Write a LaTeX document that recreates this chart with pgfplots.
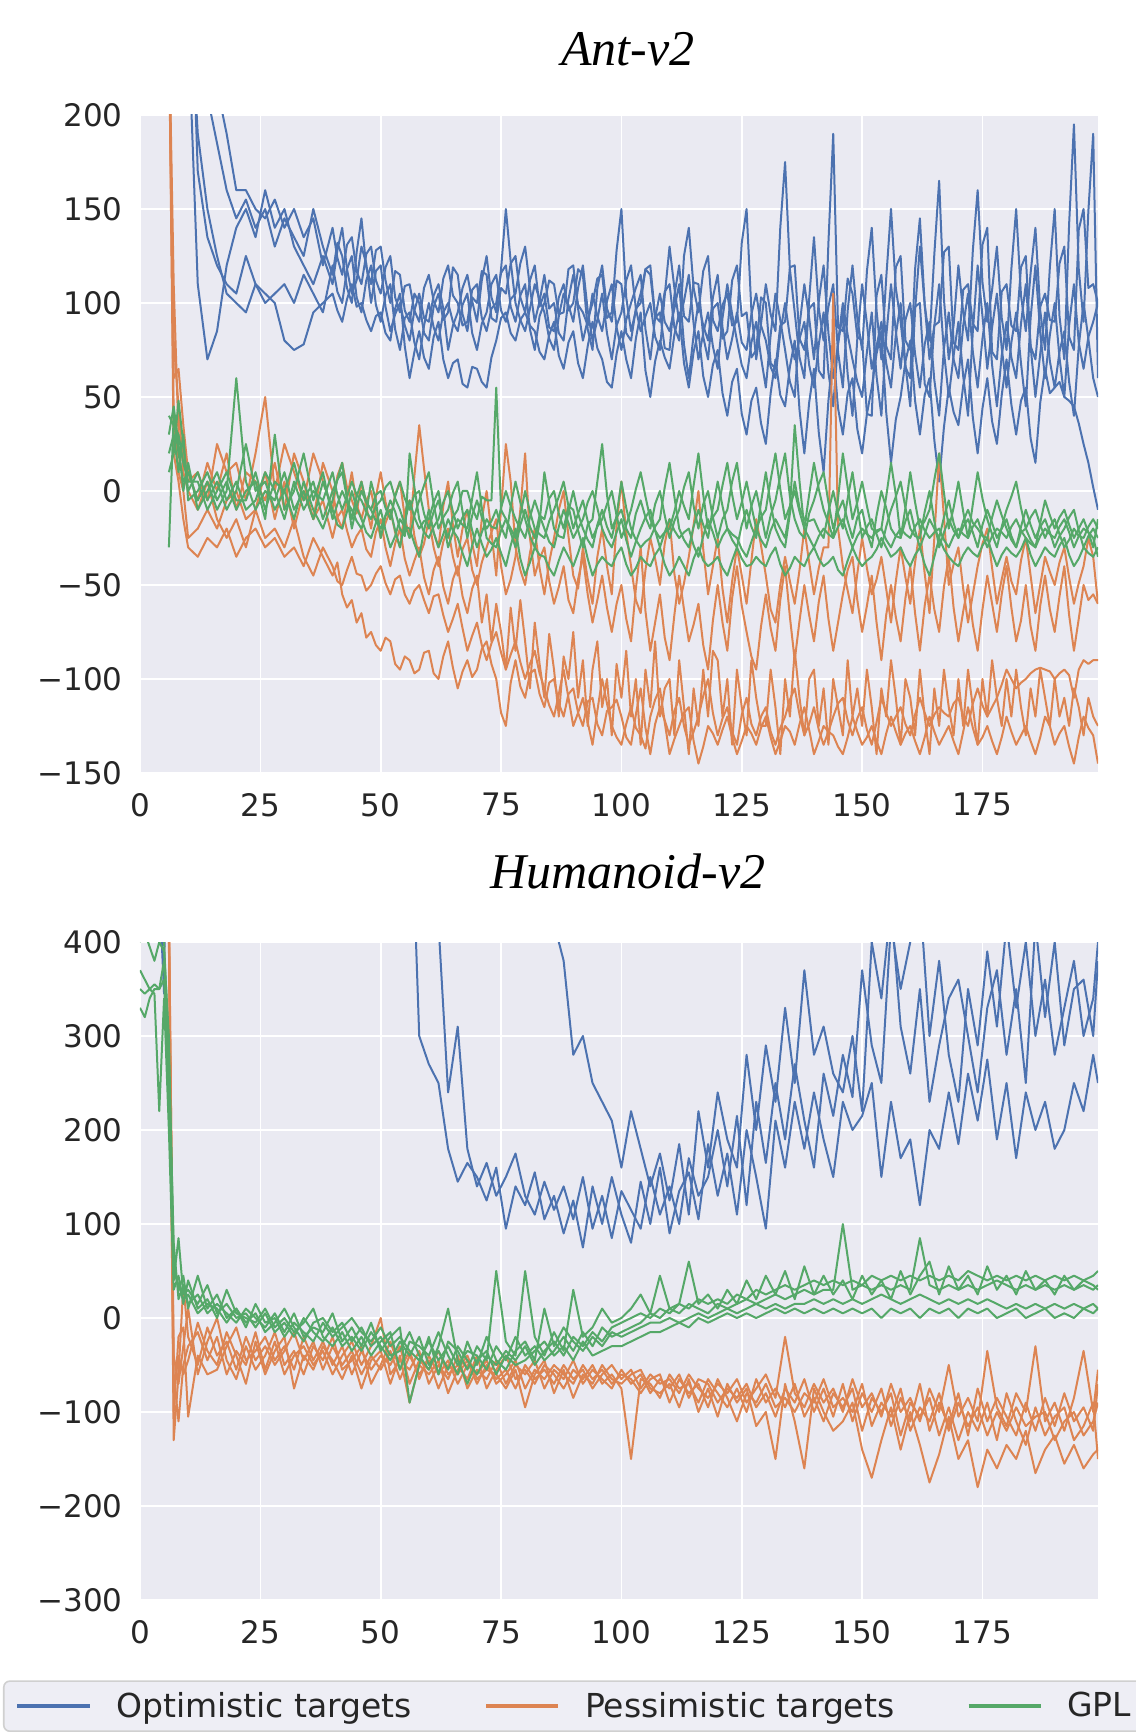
\documentclass[border=0pt]{standalone}
\usepackage{pgfplots}
\pgfplotsset{compat=1.18}
\usepackage{pgfplotstable}
\usepackage{fontspec}
\setmainfont{DejaVu Sans}
\newfontfamily\titlefont{Liberation Serif}
\definecolor{sbblue}{HTML}{4C72B0}
\definecolor{sborange}{HTML}{DD8452}
\definecolor{sbgreen}{HTML}{55A868}
\definecolor{sbbg}{HTML}{EAEAF2}
\definecolor{textgrey}{HTML}{262626}
\definecolor{legendfill}{HTML}{EEEEF5}
\definecolor{legendframe}{HTML}{D0D0D0}

\pgfplotstableread{
x a b c d e
6 400 400 400 400 400
7 400 400 400 400 400
8 350 380 420 360 400
9 300 350 400 320 360
10 250 320 380 280 330
12 110 170 330 190 260
14 70 135 260 150 210
16 85 120 215 125 185
18 120 110 190 105 160
20 140 105 160 100 145
22 150 125 160 95 155
24 135 110 150 110 140
26 160 100 145 105 150
28 140 105 155 100 130
30 150 110 140 80 145
32 130 100 150 75 135
34 120 115 135 78 125
36 110 105 145 95 150
38 125 95 120 100 130
40 110 120 140 105 115
41 128 106 124 96 132
42 140 100 115 90 125
43 118 118 131 102 108
44 105 125 135 110 100
45 112 103 117 98 127
46 130 95 110 100 145
47 121 112 126 91 119
48 100 120 130 85 110
49 117 99 112 93 128
50 120 90 105 95 130
51 98 104 119 84 112
52 85 110 125 80 100
53 94 86 103 97 117
54 100 75 95 105 115
55 88 92 109 77 96
56 80 95 110 60 90
57 96 79 96 74 105
58 105 70 90 85 100
59 92 88 108 71 84
60 90 100 115 65 80
61 104 87 101 82 98
62 110 80 95 90 105
63 97 95 113 70 91
64 75 100 120 60 95
65 88 90 104 68 119
66 95 85 100 70 115
67 108 99 88 57 94
68 115 105 90 55 85
69 101 84 107 66 103
70 90 75 110 65 100
71 112 89 92 58 117
72 125 95 85 55 115
73 103 110 97 71 92
74 95 115 100 80 90
75 118 96 116 92 108
76 150 90 120 95 105
77 122 102 98 84 121
78 100 105 90 80 125
79 91 121 104 91 103
80 85 130 110 95 95
81 97 108 86 88 112
82 110 90 75 85 120
83 102 101 93 74 98
84 95 115 100 70 105
85 81 97 112 83 87
86 75 100 110 90 85
87 93 84 94 72 103
88 105 80 95 65 110
89 99 102 118 79 96
90 90 115 120 85 100
91 108 99 97 68 118
92 120 95 80 60 115
93 96 88 91 77 86
94 80 105 100 90 75
95 91 93 113 76 108
96 105 85 115 70 120
97 84 101 92 58 97
98 70 110 95 55 90
99 88 87 128 73 112
100 95 75 150 85 110
101 112 91 103 70 84
102 120 100 85 60 80
103 97 108 96 81 97
104 85 115 105 95 100
105 93 86 118 64 118
106 100 70 120 50 115
107 82 92 93 69 92
108 75 105 90 80 95
109 104 90 106 71 76
110 130 85 110 65 75
111 108 97 87 83 104
112 90 110 80 95 120
113 101 78 125 68 93
114 115 60 140 55 90
115 89 83 108 74 111
116 70 100 95 85 110
117 84 88 117 61 82
118 95 80 125 50 70
119 77 103 91 67 97
120 65 115 85 75 100
121 92 87 99 52 81
122 110 70 105 40 85
123 94 81 88 58 112
124 80 95 90 65 120
125 67 79 132 41 93
126 60 75 150 30 95
127 79 94 96 48 71
128 90 105 70 55 75
129 71 88 89 36 103
130 55 80 110 25 100
131 83 66 94 52 68
132 105 60 85 70 65
133 91 84 140 51 88
134 75 100 175 45 90
135 58 82 118 66 119
136 50 70 95 80 120
137 88 81 71 43 81
138 110 90 60 20 75
139 92 67 102 47 97
140 70 55 135 65 100
141 101 78 97 31 64
142 120 95 80 10 60
143 84 63 98 48 132
144 60 45 110 75 190
145 78 79 74 44 87
146 95 100 55 30 85
147 62 83 96 52 113
148 40 70 120 60 105
149 81 58 92 33 82
150 110 50 75 20 80
151 89 74 117 41 41
152 65 95 140 55 40
153 77 61 96 73 104
154 90 40 70 85 115
155 68 82 113 42 77
156 55 110 150 15 70
157 83 85 108 38 119
158 100 65 90 50 125
159 67 91 66 69 80
160 45 100 60 80 75
161 96 73 118 48 98
162 130 55 145 30 100
163 99 78 99 51 57
164 70 90 80 60 50
165 88 59 126 27 88
166 110 40 165 5 90
167 74 76 102 34 127
168 50 95 70 55 130
169 72 70 88 42 79
170 90 60 120 35 75
171 61 88 95 56 107
172 40 105 80 70 110
173 85 74 128 39 89
174 120 55 160 20 85
175 93 81 111 44 131
176 65 100 90 60 140
177 87 67 107 37 74
178 105 45 130 25 70
179 76 72 92 51 106
180 55 90 75 70 110
181 79 71 118 46 88
182 95 60 150 30 85
183 68 89 104 48 119
184 45 110 85 55 125
185 92 77 116 28 77
186 120 50 140 15 70
187 84 73 96 47 98
188 60 95 75 65 105
189 83 69 119 52 91
190 100 55 150 55 90
191 71 74 93 58 121
192 50 85 70 50 130
193 88 58 142 48 82
194 110 40 195 45 75
195 79 77 118 36 139
196 65 100 90 25 150
197 82 81 149 15 108
198 90 60 190 2 110
199 100 50 60 -10 100
}\antblue

\pgfplotstableread{
x a b c d e
6 250 250 250 250 250
7 110 60 40 20 80
8 30 65 10 5 45
9 20 35 0 -15 10
10 5 10 -25 -30 0
12 10 -5 -20 -35 -10
14 -5 15 -10 -25 5
16 25 0 -20 -30 -15
18 10 20 -5 -20 -25
20 15 -10 0 -35 -15
22 -5 10 -15 -25 -30
24 20 5 -10 -20 -10
26 50 -5 10 -30 -25
28 0 15 -15 -25 -20
30 25 -10 5 -35 -30
32 10 20 -20 -30 -15
34 -5 5 0 -40 -35
36 20 -15 -15 -25 -45
38 5 15 -5 -35 -30
40 -10 0 -25 -45 -40
41 8 -14 -14 -38 -48
42 15 -20 -10 -55 -50
43 2 -4 -21 -62 -42
44 -5 10 -30 -58 -35
45 -12 -7 -24 -70 -44
46 5 -15 -20 -65 -45
47 -8 -5 -31 -78 -53
48 -20 0 -35 -75 -50
49 -3 -13 -22 -82 -44
50 10 -25 -15 -85 -40
51 -6 -17 -30 -78 -49
52 -15 -10 -40 -80 -55
53 -2 -22 -28 -92 -47
54 5 -30 -20 -95 -45
55 -14 -11 -36 -88 -55
56 -25 -5 -45 -90 -60
57 8 -24 -37 -97 -53
58 35 -35 -30 -95 -50
59 12 -28 -46 -86 -58
60 -10 -15 -55 -85 -65
61 -22 -30 -42 -97 -56
62 -30 -40 -35 -100 -55
63 -8 -27 -51 -88 -66
64 5 -20 -60 -80 -75
65 -18 -35 -47 -94 -68
66 -35 -45 -40 -105 -60
67 -20 -31 -56 -96 -73
68 -10 -25 -65 -90 -85
69 -28 -42 -52 -99 -77
70 -40 -50 -45 -95 -70
71 -15 -38 -70 -84 -82
72 0 -30 -55 -80 -90
73 -22 -22 -80 -92 -81
74 -45 -15 -60 -100 -75
75 -10 -40 -75 -118 -86
76 25 -55 -95 -125 -95
77 5 -47 -62 -102 -87
78 -30 -35 -85 -90 -80
79 -42 -10 -58 -104 -91
80 -50 20 -80 -110 -100
81 -33 -25 -105 -97 -92
82 -20 -45 -70 -95 -85
83 -41 -36 -92 -108 -97
84 -55 -30 -110 -115 -105
85 -38 -48 -76 -102 -114
86 -25 -60 -95 -100 -120
87 -10 -51 -120 -113 -108
88 0 -40 -88 -120 -95
89 -24 -58 -100 -108 -110
90 -45 -65 -75 -105 -125
91 -52 -47 -110 -118 -118
92 -30 -35 -90 -125 -110
93 -47 -55 -125 -112 -123
94 -60 -70 -95 -110 -135
95 -35 -58 -80 -124 -117
96 -20 -45 -115 -130 -100
97 -40 -62 -100 -117 -113
98 -55 -75 -130 -115 -125
99 -18 -60 -92 -111 -131
100 5 -50 -110 -120 -135
101 -22 -68 -85 -131 -124
102 -40 -80 -120 -135 -115
103 -58 -52 -100 -119 -126
104 -65 -30 -135 -105 -130
105 -42 -64 -95 -126 -137
106 -25 -85 -115 -140 -120
107 -36 -70 -80 -124 -111
108 -50 -55 -120 -115 -105
109 -28 -78 -105 -122 -123
110 -15 -90 -100 -130 -140
111 -44 -66 -130 -117 -132
112 -60 -45 -90 -110 -125
113 -49 -63 -115 -125 -118
114 -35 -80 -140 -135 -115
115 -18 -71 -105 -128 -133
116 0 -60 -125 -120 -145
117 -31 -82 -95 -109 -136
118 -55 -95 -120 -100 -125
119 -40 -69 -85 -118 -129
120 -25 -50 -90 -130 -135
121 -52 -70 -120 -121 -127
122 -70 -85 -100 -115 -120
123 -48 -57 -135 -128 -131
124 -30 -40 -95 -135 -140
125 -45 -61 -115 -119 -133
126 -60 -75 -130 -110 -125
127 -37 -88 -90 -124 -129
128 -15 -95 -110 -130 -135
129 -29 -72 -125 -120 -126
130 -45 -55 -125 -115 -120
131 -63 -73 -95 -128 -131
132 -70 -85 -115 -135 -140
133 -50 -58 -140 -126 -133
134 -35 -40 -100 -120 -125
135 -48 -67 -120 -111 -128
136 -60 -90 -85 -105 -135
137 -42 -69 -110 -119 -124
138 -20 -50 -130 -130 -115
139 -38 -66 -100 -124 -127
140 -55 -80 -95 -115 -140
141 -41 -59 -125 -127 -133
142 -30 -45 -105 -135 -125
143 -30 -68 -135 -128 -128
144 105 -85 -100 -120 -130
145 -20 -70 -115 -113 -136
146 -40 -55 -130 -110 -140
147 -53 -42 -90 -122 -131
148 -65 -35 -120 -130 -120
149 -44 -58 -105 -121 -128
150 -25 -75 -125 -115 -135
151 -41 -61 -95 -127 -131
152 -55 -45 -115 -135 -125
153 -47 -70 -140 -123 -133
154 -35 -90 -105 -110 -140
155 -52 -66 -120 -118 -129
156 -70 -50 -90 -125 -120
157 -48 -67 -110 -120 -128
158 -30 -80 -135 -115 -135
159 -46 -57 -100 -124 -129
160 -60 -40 -110 -130 -125
161 -38 -65 -130 -119 -133
162 -20 -85 -95 -110 -140
163 -44 -61 -120 -118 -131
164 -65 -45 -140 -125 -120
165 -25 -63 -105 -119 -128
166 20 -75 -125 -115 -135
167 -14 -51 -95 -118 -130
168 -50 -35 -115 -120 -125
169 -39 -62 -130 -113 -133
170 -30 -80 -100 -110 -140
171 -52 -64 -125 -120 -128
172 -70 -50 -95 -125 -115
173 -55 -71 -115 -113 -126
174 -40 -85 -135 -105 -135
175 -28 -63 -100 -114 -131
176 -20 -45 -120 -120 -125
177 -41 -60 -90 -115 -133
178 -60 -75 -110 -110 -140
179 -47 -55 -125 -103 -131
180 -35 -40 -100 -95 -120
181 -48 -62 -120 -100 -128
182 -55 -80 -95 -105 -135
183 -37 -69 -115 -102 -130
184 -25 -50 -130 -100 -125
185 -45 -72 -105 -97 -133
186 -65 -85 -120 -95 -140
187 -50 -61 -95 -94 -131
188 -35 -45 -110 -95 -120
189 -43 -63 -125 -96 -125
190 -50 -75 -100 -100 -135
191 -38 -56 -120 -97 -129
192 -30 -40 -110 -95 -125
193 -46 -66 -125 -98 -136
194 -60 -85 -105 -110 -145
195 -49 -68 -115 -95 -131
196 -40 -50 -130 -90 -120
197 -25 -58 -110 -92 -126
198 -35 -55 -120 -90 -130
199 -60 -60 -125 -90 -145
}\antorange

\pgfplotstableread{
x a b c d e
6 -30 10 20 30 40
7 40 20 30 45 35
8 20 48 10 25 30
9 5 25 30 0 15
10 10 0 -5 15 5
12 -5 10 0 -10 5
14 5 -5 10 0 -10
16 -10 5 -5 10 0
18 0 -10 5 -5 10
20 60 0 -10 5 -5
22 5 25 0 -10 -5
24 -10 0 5 -5 10
26 0 5 -15 10 -10
28 -5 -10 30 0 5
30 10 0 -10 -15 0
32 -10 15 0 5 -15
34 0 -5 20 -10 5
36 -15 5 -5 0 -10
38 5 -15 10 -5 -20
40 -10 0 -15 10 -5
41 -18 6 -7 -2 6
42 -20 10 0 -10 15
43 -11 -4 -6 -3 -3
44 0 -15 -10 5 -20
45 -9 -3 -16 -2 -8
46 -15 5 -20 -5 0
47 -22 -6 -12 -11 -6
48 -25 -10 5 -15 -10
49 -17 -2 -5 -8 -16
50 -10 0 -25 -5 -20
51 -21 -9 -13 2 -13
52 -30 -15 -5 5 -10
53 -24 -3 -11 -4 -21
54 -15 5 -20 -10 -30
55 -19 -4 -24 -18 -17
56 -20 -10 20 -25 -5
57 -28 -2 2 -13 -14
58 -35 0 -15 -5 -20
59 -21 -12 -22 3 -16
60 -10 -20 -25 10 -15
61 -22 -11 -19 -7 -6
62 -30 -5 -15 -20 0
63 -23 -17 -6 -14 -16
64 -15 -25 0 -10 -30
65 -21 -14 -11 -1 -22
66 -25 -10 -20 5 -15
67 -33 0 -14 -11 -18
68 -40 0 -10 -25 -20
69 -29 -9 -21 -13 -4
70 -20 -15 -30 -5 10
71 -28 -3 -22 -14 -9
72 -35 -5 -15 -20 -25
73 -31 -5 -19 -16 -28
74 -25 55 -20 -10 -30
75 -33 -10 -9 -19 -21
76 -40 -15 0 -25 -15
77 -29 -22 -8 -8 -20
78 -20 -30 -15 5 -25
79 -36 -18 -20 -6 -13
80 -45 -10 -25 -15 0
81 -38 -19 -14 -24 -11
82 -30 -25 -5 -30 -20
83 -34 -13 -13 -17 -23
84 -35 -15 -20 10 -25
85 -41 -4 -27 -6 -16
86 -45 0 -30 -20 -10
87 -37 -12 -19 -24 -3
88 -30 -20 -10 -25 5
89 -35 -8 -17 -11 -8
90 -40 -10 -25 0 -20
91 -33 -21 -20 -12 -12
92 -25 -30 -15 -20 -5
93 -36 -18 -6 -26 -16
94 -45 -15 0 -30 -25
95 -39 5 -9 -18 -19
96 -35 25 -20 -10 -15
97 -38 -2 -26 -19 -7
98 -40 -20 -30 -25 0
99 -34 -14 -22 -13 -13
100 -30 -10 -15 5 -25
101 -39 -20 -26 -9 -18
102 -45 -25 -35 -20 -10
103 -41 -12 -27 -26 1
104 -35 -5 -20 -30 10
105 -38 -14 -14 -27 -3
106 -40 -20 -10 -25 -15
107 -34 -7 -21 -19 -21
108 -30 0 -30 -15 -25
109 -39 -13 -22 2 -22
110 -45 -25 -15 15 -20
111 -41 -16 -21 -3 -11
112 -35 -10 -25 -20 0
113 -40 2 -22 -26 -8
114 -45 10 -20 -30 -15
115 -36 -8 -29 -19 3
116 -30 -20 -35 -10 20
117 -37 -7 -24 -18 -2
118 -40 0 -15 -25 -20
119 -38 -14 -22 -9 -14
120 -35 -25 -30 5 -10
121 -41 -15 -24 -8 3
122 -45 -10 -20 -20 15
123 -37 5 -23 -26 -2
124 -30 15 -25 -30 -15
125 -36 -4 -31 -18 -6
126 -40 -20 -35 -10 5
127 -39 -8 -27 -19 -8
128 -35 0 -20 -25 -20
129 -38 -12 -26 -6 -14
130 -40 -25 -30 10 -10
131 -34 -13 -21 -7 6
132 -30 -5 -15 -20 20
133 -39 8 -20 -26 1
134 -45 20 -25 -30 -15
135 -41 -3 -10 -12 -8
136 -35 -15 35 5 0
137 -38 -22 5 -9 -11
138 -40 -25 -20 -15 -20
139 -34 -12 -25 -16 -2
140 -30 -5 -30 -15 15
141 -36 4 -24 -21 1
142 -40 10 -20 -25 -10
143 -38 -6 -23 -11 -17
144 -35 -20 -25 0 -25
145 -42 -11 -19 -12 -4
146 -45 -5 -15 -20 20
147 -37 -16 -23 -4 2
148 -30 -25 -30 10 -15
149 -36 -14 -24 -8 -6
150 -40 -10 -20 -25 5
151 -37 -22 -23 -19 -8
152 -35 -30 -25 -15 -20
153 -31 -13 -21 -23 -22
154 -25 0 -20 -30 -20
155 -30 -9 -26 -19 -3
156 -35 -20 -30 -10 15
157 -33 -24 -24 -3 -2
158 -30 -25 -20 5 -25
159 -36 -16 -23 -9 -9
160 -40 -10 -25 -20 10
161 -34 -21 -19 -24 -6
162 -30 -30 -15 -25 -20
163 -39 -23 -21 -11 -16
164 -45 -15 -25 0 -10
165 -35 -20 -22 -16 6
166 -25 -25 -20 -30 20
167 -31 -14 -26 -22 -1
168 -35 -5 -30 -15 -20
169 -38 -17 -24 -21 -9
170 -40 -25 -20 -25 5
171 -34 -19 -23 -16 -11
172 -30 -15 -25 -10 -25
173 -33 -22 -19 -17 -7
174 -35 -30 -15 -20 10
175 -29 -18 -23 -24 -4
176 -25 -10 -30 -25 -15
177 -33 -17 -24 -14 -23
178 -40 -25 -20 -5 -30
179 -34 -20 -22 -13 -19
180 -30 -15 -25 -20 -10
181 -33 -24 -19 -26 -3
182 -35 -30 -15 -30 5
183 -31 -22 -21 -19 -9
184 -25 -20 -25 -10 -20
185 -34 -14 -28 -18 -26
186 -40 -10 -30 -25 -30
187 -35 -18 -24 -19 -17
188 -30 -25 -20 -15 -5
189 -33 -19 -23 -22 -13
190 -35 -15 -25 -30 -20
191 -29 -23 -19 -24 -14
192 -25 -30 -15 -20 -10
193 -34 -26 -22 -14 -18
194 -40 -20 -30 -10 -25
195 -36 -24 -24 -21 -20
196 -30 -25 -20 -30 -15
197 -33 -19 -22 -24 -22
198 -35 -15 -25 -20 -30
199 -30 -20 -35 -25 -15
}\antgreen

\pgfplotstableread{
x a b c
56 600 600 600
58 300 600 600
60 270 600 600
62 250 420 600
64 180 240 600
66 145 310 600
68 165 180 600
70 150 140 600
72 125 165 600
74 160 130 600
76 95 150 600
78 140 175 600
80 120 130 600
82 155 110 600
84 105 145 600
86 130 115 420
88 90 140 380
90 125 105 280
92 75 150 300
94 140 95 250
96 100 130 230
98 150 85 210
100 110 135 160
102 80 115 220
104 145 95 180
106 100 150 140
108 160 110 175
110 90 140 125
112 135 100 185
114 155 170 110
116 105 130 220
118 185 150 160
120 130 200 240
122 175 140 190
124 110 215 160
126 200 120 280
128 150 230 200
130 95 165 290
132 210 250 230
134 160 190 330
136 230 270 250
138 180 210 370
140 240 160 280
142 190 260 310
144 150 215 260
146 230 280 240
148 200 235 300
150 215 370 220
152 250 290 400
154 150 250 340
156 230 420 440
158 170 350 310
160 190 400 260
162 120 450 350
164 200 300 230
166 180 380 290
168 240 280 340
170 185 230 360
172 260 350 300
174 210 290 240
176 275 390 330
178 190 310 370
180 250 420 280
182 170 330 350
184 240 400 250
186 200 300 420
188 230 360 320
190 180 280 400
192 200 330 290
194 250 380 350
196 220 300 360
198 280 340 300
199 250 400 380
}\humblue

\pgfplotstableread{
x a b c d e
5 500 500 500 500 500
6 420 450 400 430 410
7 -130 -60 -100 -40 -80
8 -60 -110 -20 -70 -40
9 35 -50 -10 -30 -60
10 -20 -30 -105 10 -45
12 -50 -15 -40 -60 -5
14 -10 -45 -60 -25 -35
16 -40 -20 -55 0 -50
18 -25 -60 -30 -45 -15
20 -55 -35 -10 -65 -40
22 -20 -50 -45 -30 -70
24 -45 -15 -35 -55 -25
26 -30 -55 -20 -40 -60
28 -50 -25 -45 -15 -35
30 -35 -60 -30 -50 -20
32 -15 -40 -55 -35 -75
34 -45 -30 -20 -60 -40
36 -25 -50 -45 -30 -55
38 -55 -35 -25 -45 -30
40 -30 -60 -50 -20 -45
42 -50 -40 -30 -55 -65
44 -35 -25 -60 -45 -40
46 -60 -50 -35 -30 -75
48 -40 -30 -55 -70 -45
50 -55 0 -40 -50 -35
52 -35 -60 -50 -25 -70
54 -65 -45 -30 -55 -40
56 -40 -55 -70 -35 -90
58 -60 -35 -45 -65 -50
60 -45 -70 -55 -40 -60
62 -75 -50 -35 -60 -45
64 -50 -65 -60 -45 -80
66 -60 -40 -50 -70 -55
68 -45 -75 -65 -50 -40
70 -70 -55 -40 -60 -65
72 -50 -65 -75 -45 -55
74 -65 -45 -55 -70 -60
76 -55 -70 -40 -60 -75
78 -75 -50 -65 -45 -55
80 -50 -60 -55 -75 -95
82 -65 -45 -70 -55 -60
84 -55 -75 -50 -65 -45
86 -70 -55 -60 -50 -80
88 -50 -65 -75 -60 -55
90 -65 -45 -55 -70 -85
92 -55 -70 -65 -50 -60
94 -75 -55 -50 -65 -70
96 -60 -65 -70 -55 -50
98 -50 -75 -60 -70 -65
100 -65 -55 -75 -60 -70
102 -55 -70 -150 -65 -60
104 -75 -60 -65 -80 -55
106 -60 -80 -70 -65 -75
108 -70 -65 -85 -60 -80
110 -65 -75 -60 -90 -70
112 -80 -60 -75 -65 -95
114 -60 -85 -70 -80 -65
116 -75 -65 -90 -70 -100
118 -85 -70 -65 -95 -75
120 -70 -90 -80 -65 -105
122 -80 -75 -95 -85 -70
124 -65 -85 -75 -110 -90
126 -90 -70 -100 -80 -75
128 -75 -95 -65 -90 -115
130 -60 -80 -90 -70 -100
132 -85 -105 -75 -95 -150
134 -20 -75 -95 -85 -70
136 -80 -90 -70 -100 -110
138 -95 -65 -105 -80 -160
140 -70 -100 -85 -90 -75
142 -90 -75 -110 -65 -100
144 -75 -105 -80 -95 -120
146 -100 -70 -95 -85 -110
148 -65 -110 -75 -100 -90
150 -95 -80 -120 -70 -140
152 -80 -100 -85 -115 -170
154 -105 -75 -100 -90 -130
156 -70 -115 -80 -105 -95
158 -100 -85 -125 -75 -140
160 -85 -110 -90 -120 -100
162 -110 -70 -105 -95 -135
164 -75 -120 -85 -110 -175
166 -100 -90 -125 -80 -145
168 -50 -115 -95 -120 -105
170 -105 -80 -130 -90 -150
172 -85 -125 -100 -115 -130
174 -110 -75 -120 -95 -180
176 -35 -110 -90 -125 -140
178 -95 -85 -130 -100 -160
180 -115 -105 -80 -120 -135
182 -80 -125 -110 -95 -150
184 -100 -90 -135 -115 -120
186 -30 -120 -95 -105 -165
188 -110 -85 -125 -100 -140
190 -90 -115 -105 -130 -125
192 -120 -80 -95 -110 -155
194 -85 -110 -130 -100 -135
196 -35 -95 -115 -125 -160
198 -100 -120 -90 -110 -145
199 -55 -70 -150 -90 -140
}\humorange

\pgfplotstableread{
x a b c d e
0 330 400 370 420 350
1 320 410 360 430 345
2 340 395 350 440 350
3 350 380 345 420 355
4 350 400 220 410 350
5 380 390 340 400 360
6 250 300 200 280 230
7 40 60 30 80 50
8 85 30 45 20 35
9 25 45 15 35 20
10 30 10 40 15 25
12 15 45 10 25 5
14 35 10 20 5 15
16 5 25 0 15 10
18 15 0 30 5 -5
20 0 10 5 -5 10
22 5 -10 0 10 -5
24 -10 15 -5 0 5
26 5 -5 10 -10 -15
28 -15 0 -10 5 -5
30 -5 -20 0 -15 10
32 -20 -5 -15 5 -10
34 0 -15 -5 -20 -25
36 -15 -25 10 -10 -5
38 -25 -5 -20 -15 0
40 -10 -20 -30 5 -15
42 -30 -10 -15 -25 -5
44 -20 0 -35 -10 -25
46 -35 -15 -20 -30 -10
48 -15 -25 -40 -5 -30
50 -30 -10 -25 -35 -20
52 -45 -30 -15 -20 -40
54 -25 -20 -55 -10 -35
56 -40 -35 -25 -90 -15
58 -20 -45 -30 -50 -40
60 -50 -25 -40 -20 -55
62 -35 -45 -15 -60 -30
64 -55 -30 -40 -25 10
66 -30 -50 -60 -35 -45
68 -45 -35 -25 -55 -70
70 -60 -40 -50 -30 -45
72 -40 -55 -20 -45 -35
74 -50 -30 -45 50 -60
76 -35 -45 -55 -25 -40
78 -45 -20 -35 -40 -50
80 -30 -40 -25 50 -45
82 -50 -30 -45 -20 -35
84 -35 -45 10 -40 -25
86 -25 -35 -30 -15 -40
88 -40 -20 -10 -35 -30
90 -20 -35 -25 30 -45
92 -30 -15 -35 -20 -25
94 -15 -30 -20 -10 -40
96 -25 -10 -30 10 -35
98 -10 -20 -15 -5 -30
100 -5 -15 -20 0 -30
102 0 -10 -15 10 -25
104 5 -5 -10 25 -20
106 0 5 -5 5 -15
108 10 0 -5 45 -15
110 5 10 0 10 -10
112 15 5 -5 15 -5
114 10 15 0 60 -10
116 20 10 5 15 0
118 15 5 0 25 -5
120 20 15 5 10 0
122 15 10 10 30 5
124 25 15 5 15 0
126 20 20 10 40 5
128 30 15 15 20 0
130 25 20 10 45 5
132 30 25 15 25 10
134 35 20 10 50 5
136 30 25 15 20 10
138 35 30 15 55 5
140 40 25 20 25 10
142 35 30 15 45 5
144 40 30 20 25 10
146 35 100 15 40 5
148 40 30 20 20 10
150 35 35 15 45 5
152 45 30 20 25 10
154 40 35 25 40 0
156 45 30 20 20 10
158 40 35 15 50 5
160 45 30 20 25 10
162 40 85 25 45 0
164 45 35 20 60 10
166 40 30 15 25 5
168 45 35 20 55 10
170 40 30 15 30 0
172 50 35 20 45 10
174 45 30 15 25 5
176 40 35 20 55 10
178 45 40 15 30 0
180 40 35 10 45 5
182 45 30 15 25 10
184 40 35 10 50 0
186 45 30 15 30 5
188 40 35 10 40 10
190 45 30 15 25 0
192 40 35 10 45 5
194 45 30 15 30 0
196 40 35 10 40 10
198 45 30 15 35 5
199 50 35 10 30 10
}\humgreen

\pgfplotsset{
  sbaxis/.style={
    scale only axis, width=479pt, height=329pt,
    xmin=0, xmax=199,
    axis background/.style={fill=sbbg},
    axis line style={draw=none},
    xmajorgrids, ymajorgrids,
    major grid style={draw=white, line width=0.8pt},
    major tick length=0pt,
    tick style={draw=none},
    xtick={0,25,50,75,100,125,150,175},
    xticklabels={0,25,50,75,100,125,150,175},
    tick label style={font=\fontsize{15.5}{18}\selectfont, text=textgrey, inner sep=0pt},
    xticklabel style={anchor=north, yshift=-10pt},
    yticklabel style={anchor=east, xshift=-8.5pt},
    every axis plot/.append style={line width=1pt, mark=none, line join=round},
  }
}

\begin{document}
\begin{tikzpicture}
\useasboundingbox (0,0) rectangle (567.5pt,866.5pt);

\node[anchor=base, font={\titlefont\itshape\fontsize{25}{30}\selectfont}] at (314pt,833.7pt) {Ant-v2};
\node[anchor=base, font={\titlefont\itshape\fontsize{25}{30}\selectfont}] at (314pt,422pt) {Humanoid-v2};

\begin{axis}[sbaxis, at={(70pt,480pt)}, anchor=south west,
  ymin=-150, ymax=200,
  ytick={-150,-100,-50,0,50,100,150,200},
  yticklabels={−150,−100,−50,0,50,100,150,200}]
\foreach \c in {a,b,c,d,e}{
  \addplot[sbblue, forget plot] table[x=x, y=\c] {\antblue};
}
\foreach \c in {a,b,c,d,e}{
  \addplot[sborange, forget plot] table[x=x, y=\c] {\antorange};
}
\foreach \c in {a,b,c,d,e}{
  \addplot[sbgreen, forget plot] table[x=x, y=\c] {\antgreen};
}
\end{axis}

\begin{axis}[sbaxis, at={(70pt,66.5pt)}, anchor=south west,
  ymin=-300, ymax=400,
  ytick={-300,-200,-100,0,100,200,300,400},
  yticklabels={−300,−200,−100,0,100,200,300,400},
  legend columns=3,
  legend cell align=left,
  legend image code/.code={\draw[#1, line width=1.7pt] (0pt,0pt) -- (36pt,0pt);},
  legend style={
    at={(-0.1430,-0.2006)}, anchor=south west,
    draw=legendframe, fill=legendfill, line width=0.8pt, rounded corners=3pt,
    font=\fontsize{16.5}{19.8}\selectfont, text=textgrey,
    inner xsep=6pt, inner ysep=5.5pt,
    column sep=12.5pt,
    /tikz/every even column/.append style={column sep=36.3pt},
    nodes={inner sep=0pt},
  }]
\addlegendimage{sbblue}
\addlegendimage{sborange}
\addlegendimage{sbgreen}
\legend{Optimistic targets, Pessimistic targets, GPL}
\addplot[sbblue, forget plot] coordinates {(0,700) (4,460) (5,345) (6,900)};
\foreach \c in {a,b,c}{
  \addplot[sbblue, forget plot] table[x=x, y=\c] {\humblue};
}
\foreach \c in {a,b,c,d,e}{
  \addplot[sborange, forget plot] table[x=x, y=\c] {\humorange};
}
\foreach \c in {a,b,c,d,e}{
  \addplot[sbgreen, forget plot] table[x=x, y=\c] {\humgreen};
}
\end{axis}
\end{tikzpicture}
\end{document}
